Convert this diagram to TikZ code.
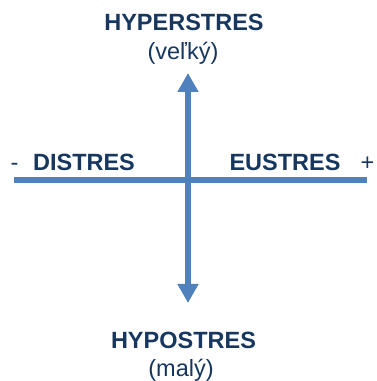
\documentclass[tikz,border=0pt]{standalone}
\usepackage{fontspec}
\setmainfont{Liberation Sans}
\usetikzlibrary{positioning,arrows.meta}
\definecolor{axisBlue}{HTML}{4F81BD}
\definecolor{labelNavy}{HTML}{17375E}

\begin{document}
\begin{tikzpicture}[x=1pt, y=1pt,
          axis/.style={draw=axisBlue, line width=5.5pt},
          tip/.style={-{Triangle[length=19pt, width=20pt]}},
          title/.style={anchor=base, inner sep=0pt, text=labelNavy, font=\fontsize{23.5}{26}\selectfont\bfseries},
          note/.style={anchor=base, inner sep=0pt, text=labelNavy, font=\fontsize{23.5}{26}\selectfont}]
        \useasboundingbox (0,0) rectangle (376,381);
        \coordinate (w) at (14,201);
        \coordinate (e) at (367,201);
        \coordinate (n) at (188,308);
        \coordinate (s) at (188,78);
        \coordinate (o) at (188,201);
        \draw[axis] (w) -- (e);
        \draw[axis, tip] (o) -- (n);
        \draw[axis, tip] (o) -- (s);
        \node[title] (hyper) at (184,350) {HYPERSTRES};
        \node[note] (big) at (183,321) {(veľký)};
        \node[title] (hypo) at (183.5,32) {HYPOSTRES};
        \node[note] (small) at (181,5) {(malý)};
        \node[title] (dis) at (84,210) {DISTRES};
        \node[title] (eu) at (285,210) {EUSTRES};
        \node[note] (minus) at (14.5,210) {-};
        \node[note] (plus) at (367.5,210) {+};
      \end{tikzpicture}
\end{document}
